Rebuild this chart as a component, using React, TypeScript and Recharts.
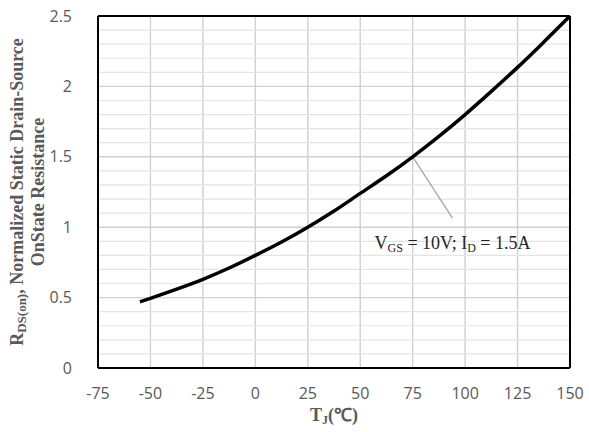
import {
  CartesianGrid,
  Line,
  LineChart,
  ReferenceDot,
  ReferenceLine,
  XAxis,
  YAxis,
} from 'recharts';

const temps = [-55, -50, -37.5, -25, -12.5, 0, 12.5, 25, 37.5, 50, 62.5, 75, 87.5, 100, 112.5, 125, 137.5, 150];
const resistance = [0.47, 0.495, 0.56, 0.63, 0.71, 0.8, 0.895, 1.0, 1.115, 1.24, 1.365, 1.5, 1.645, 1.8, 1.965, 2.135, 2.315, 2.5];

const xTicks = [-75, -50, -25, 0, 25, 50, 75, 100, 125, 150];
const yTicks = [0, 0.5, 1, 1.5, 2, 2.5];
const yMinor = [0.1, 0.2, 0.3, 0.4, 0.6, 0.7, 0.8, 0.9, 1.1, 1.2, 1.3, 1.4, 1.6, 1.7, 1.8, 1.9, 2.1, 2.2, 2.3, 2.4];

// annotation: leader from the curve down to the condition label
const leaderFrom = { x: 75, y: 1.5 };
const leaderTo = { x: 94, y: 1.065 };
const labelAt = { x: 94, y: 0.89 };

const data = temps.map((t, i) => ({ t, r: resistance[i] }));

const serif = '"Liberation Serif", "Times New Roman", serif';
const sans = '"Open Sans", "Noto Sans", sans-serif';

function YTitle(props: any) {
  const cy = props.viewBox ? props.viewBox.y + props.viewBox.height / 2 : 192;
  return (
    <g fontFamily={serif} fontWeight="bold" fontSize={18} fill="#595959">
      <text x={17} y={cy} transform={`rotate(-90 17 ${cy})`} textAnchor="middle" dominantBaseline="central">
        R<tspan fontSize={13} dy={4}>DS(on)</tspan>
        <tspan dy={-4}>, Normalized Static Drain-Source</tspan>
      </text>
      <text x={38} y={cy} transform={`rotate(-90 38 ${cy})`} textAnchor="middle" dominantBaseline="central">
        OnState Resistance
      </text>
    </g>
  );
}

function XTitle(props: any) {
  const vb = props.viewBox || { x: 98, width: 472, y: 368 };
  const cx = vb.x + vb.width / 2;
  return (
    <text x={cx} y={421} textAnchor="middle" fontFamily={serif} fontWeight="bold" fontSize={18} fill="#595959">
      T<tspan fontSize={12} dy={3}>J</tspan>
      <tspan dy={-3}>(℃)</tspan>
    </text>
  );
}

function Condition(props: any) {
  const vb = props.viewBox;
  const cx = vb.x + (vb.width || 0) / 2;
  const cy = vb.y + (vb.height || 0) / 2;
  return (
    <text x={cx} y={cy + 6} textAnchor="middle" fontFamily={serif} fontSize={18} fill="#262626">
      V<tspan fontSize={12} dy={3}>GS</tspan>
      <tspan dy={-3}> = 10V; I</tspan>
      <tspan fontSize={12} dy={3}>D</tspan>
      <tspan dy={-3}> = 1.5A</tspan>
    </text>
  );
}

const tickStyle = { fill: '#595959', fontSize: 16, fontFamily: sans };
const frameLine = { stroke: '#000', strokeWidth: 2 };

export default function App() {
  return (
    <div style={{ position: 'absolute', left: 0, top: 0, background: '#fff' }}>
      <LineChart width={589} height={432} data={data} margin={{ top: 15, right: 18, bottom: 0, left: 0 }}>
        <CartesianGrid stroke="#d0d0d0" strokeWidth={1.4} />
        {yMinor.map((v) => (
          <ReferenceLine key={v} y={v} stroke="#e4e4e4" strokeWidth={1.2} />
        ))}
        <XAxis
          dataKey="t"
          type="number"
          domain={[-75, 150]}
          ticks={xTicks}
          height={64}
          tickLine={false}
          axisLine={frameLine}
          tickMargin={14}
          tick={tickStyle}
          interval={0}
          label={<XTitle />}
        />
        <XAxis
          xAxisId="top"
          orientation="top"
          dataKey="t"
          type="number"
          domain={[-75, 150]}
          height={1}
          tick={false}
          tickLine={false}
          axisLine={frameLine}
        />
        <YAxis
          type="number"
          domain={[0, 2.5]}
          ticks={yTicks}
          width={98}
          tickLine={false}
          axisLine={frameLine}
          tickMargin={20}
          tick={tickStyle}
          interval={0}
          label={<YTitle />}
        />
        <YAxis
          yAxisId="right"
          orientation="right"
          type="number"
          domain={[0, 2.5]}
          width={1}
          tick={false}
          tickLine={false}
          axisLine={frameLine}
        />
        <ReferenceLine segment={[leaderFrom, leaderTo]} stroke="#a6a6a6" strokeWidth={1.3} />
        <Line
          dataKey="r"
          type="monotone"
          stroke="#000"
          strokeWidth={3.5}
          dot={false}
          isAnimationActive={false}
        />
        <ReferenceDot x={labelAt.x} y={labelAt.y} r={0} stroke="none" fill="none" label={<Condition />} />
      </LineChart>
    </div>
  );
}
